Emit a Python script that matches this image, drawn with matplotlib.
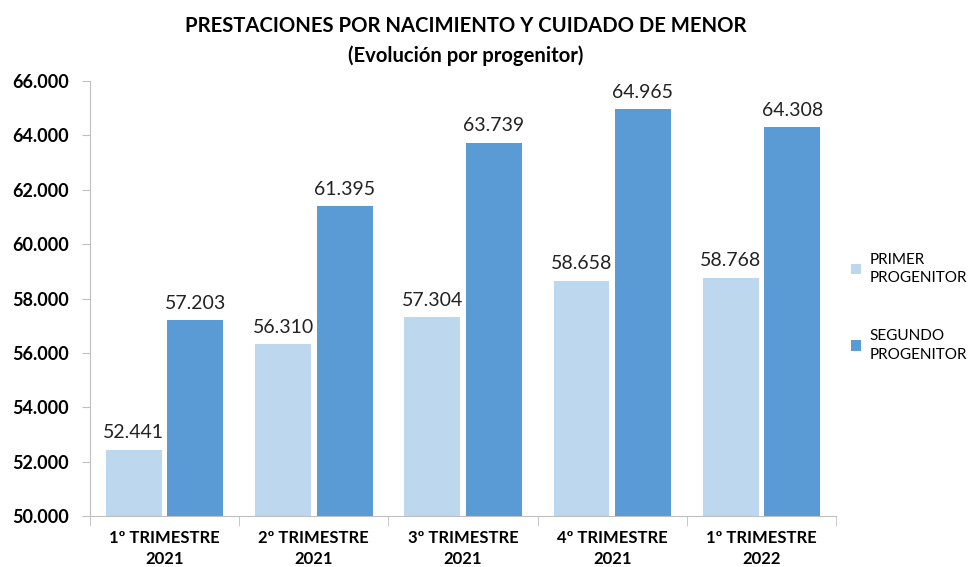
import matplotlib.pyplot as plt
import numpy as np

plt.rcParams['font.family'] = ['Lato', 'DejaVu Sans']

categories = ['1º TRIMESTRE\n2021', '2º TRIMESTRE\n2021', '3º TRIMESTRE\n2021',
              '4º TRIMESTRE\n2021', '1º TRIMESTRE\n2022']
primer = [52441, 56310, 57304, 58658, 58768]
segundo = [57203, 61395, 63739, 64965, 64308]
series_names = ['PRIMER\nPROGENITOR', 'SEGUNDO\nPROGENITOR']
yticks = list(range(50000, 66001, 2000))

def fmt(v):
    # thousands separator with a dot
    return '{:,}'.format(v).replace(',', '.')

fig = plt.figure(figsize=(9.74, 5.67), dpi=100)
ax = fig.add_axes([0.0924, 0.09, 0.766, 0.767])

x = np.arange(len(categories))
w = 0.375
off = 0.206
b1 = ax.bar(x - off, np.array(primer) - 50000, w, bottom=50000, color='#BDD7EE', label=series_names[0])
b2 = ax.bar(x + off, np.array(segundo) - 50000, w, bottom=50000, color='#5B9BD5', label=series_names[1])

for bars, vals in ((b1, primer), (b2, segundo)):
    for r, v in zip(bars, vals):
        ax.text(r.get_x() + r.get_width() / 2, v + 300, fmt(v), ha='center', va='bottom',
                fontsize=14, color='#222222')

ax.set_xlim(-0.5, len(categories) - 0.5)
ax.set_ylim(50000, 66000)
ax.set_yticks(yticks)
ax.set_yticklabels([fmt(t) for t in yticks], fontsize=13, fontweight='bold')

ax.set_xticks(x)
ax.set_xticklabels(categories, fontsize=12, fontweight='bold', linespacing=1.4)
ax.tick_params(axis='x', length=0, pad=10)
ax.set_xticks(np.arange(-0.5, len(categories)), minor=True)
ax.tick_params(axis='x', which='minor', length=7, color='#BFBFBF')
ax.tick_params(axis='y', length=6, color='#BFBFBF', pad=9)

for s in ('top', 'right'):
    ax.spines[s].set_visible(False)
for s in ('left', 'bottom'):
    ax.spines[s].set_color('#BFBFBF')

fig.text(0.478, 0.954, 'PRESTACIONES POR NACIMIENTO Y CUIDADO DE MENOR', ha='center', va='center',
         fontsize=14.6, fontweight='bold')
fig.text(0.478, 0.902, '(Evolución por progenitor)', ha='center', va='center',
         fontsize=14.6, fontweight='bold')

ax.legend(loc='center left', bbox_to_anchor=(1.0, 0.48), frameon=False, fontsize=11,
          handlelength=0.7, handleheight=0.7, handletextpad=0.55, labelspacing=2.9,
          borderaxespad=0.55)
for t in ax.get_legend().get_texts():
    t.set_linespacing(1.4)

fig.savefig('out.png', dpi=100)
